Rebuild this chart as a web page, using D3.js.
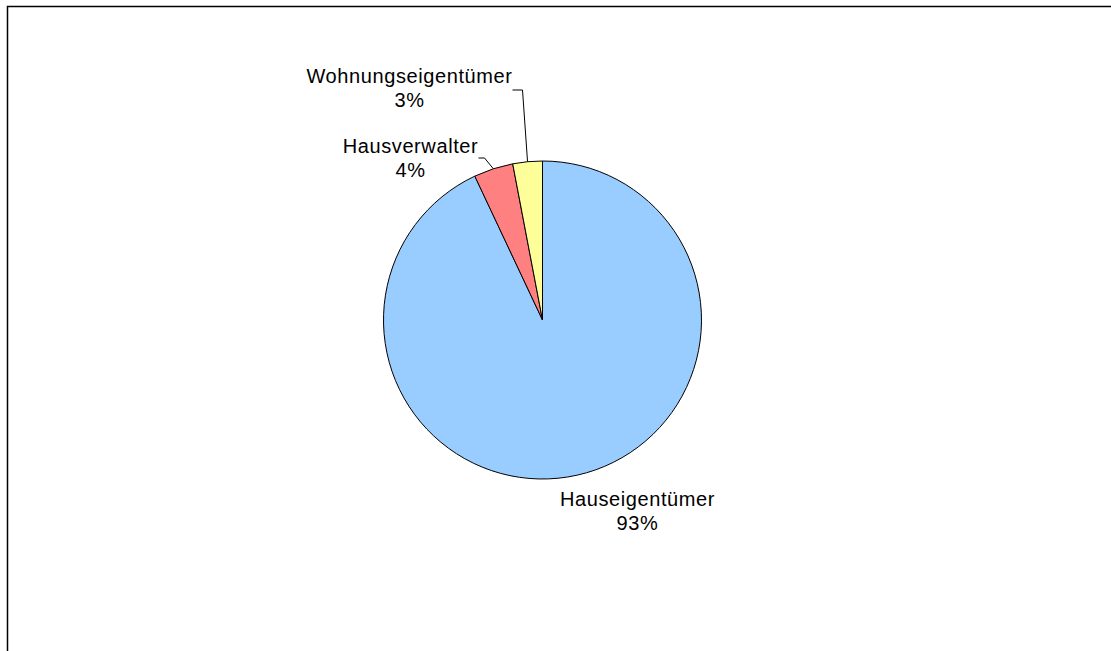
<!DOCTYPE html>
<html>
<head>
<meta charset="utf-8">
<script src="https://cdn.jsdelivr.net/npm/d3@7"></script>
<style>
  body { margin: 0; background: #fff; }
  svg { display: block; }
  text { font-family: "Liberation Sans", Arial, sans-serif; font-size: 20px; letter-spacing: 0.6px; fill: #000; }
</style>
</head>
<body>
<svg id="pie-svg" width="1111" height="651"></svg>
<script>
// data
var categories = ["Hauseigentümer", "Hausverwalter", "Wohnungseigentümer"];
var values = [93, 4, 3];
var colors = ["#99ccff", "#ff8080", "#ffff99"];

var svg = d3.select("#pie-svg"),
    width = +svg.attr("width"),
    height = +svg.attr("height");

// outer frame (chart area border)
svg.append("path")
    .attr("d", "M7.5," + height + "V6.5H" + width)
    .attr("fill", "none")
    .attr("stroke", "#000")
    .attr("stroke-width", 1.5);

var cx = 542.5, cy = 320, radius = 159;

var slices = categories.map(function (c, i) {
    return { name: c, value: values[i], color: colors[i] };
});

var pie = d3.pie()
    .sort(null)
    .value(function (d) { return d.value; });

var arc = d3.arc()
    .innerRadius(0)
    .outerRadius(radius);

var g = svg.append("g")
    .attr("transform", "translate(" + cx + "," + cy + ")");

var arcs = pie(slices);

g.selectAll("path.slice")
    .data(arcs)
    .enter().append("path")
    .attr("class", "slice")
    .attr("d", arc)
    .attr("fill", function (d) { return d.data.color; })
    .attr("stroke", "#000")
    .attr("stroke-width", 1);

// label layout: offsets from pie centre for label centre (first line baseline)
var labelPos = [
    { dx: 95, dy: 186 },
    { dx: -132, dy: -167 },
    { dx: -133, dy: -237 }
];

function edgePoint(d) {
    var a = (d.startAngle + d.endAngle) / 2;
    return [radius * Math.sin(a), -radius * Math.cos(a)];
}

// leader lines for the small slices
var leaders = {
    1: function (p) { return [p, [-58, -162], [-64, -162]]; },
    2: function (p) { return [p, [-20, -230], [-30, -230]]; }
};

arcs.forEach(function (d, i) {
    if (leaders[i]) {
        g.append("path")
            .attr("d", d3.line()(leaders[i](edgePoint(d))))
            .attr("fill", "none")
            .attr("stroke", "#000")
            .attr("stroke-width", 1);
    }
    var t = g.append("text")
        .attr("text-anchor", "middle")
        .attr("x", labelPos[i].dx)
        .attr("y", labelPos[i].dy);
    t.append("tspan")
        .attr("x", labelPos[i].dx)
        .text(d.data.name);
    t.append("tspan")
        .attr("x", labelPos[i].dx)
        .attr("dy", 24)
        .text(d3.format(".0%")(d.data.value / d3.sum(values)));
});
</script>
</body>
</html>
